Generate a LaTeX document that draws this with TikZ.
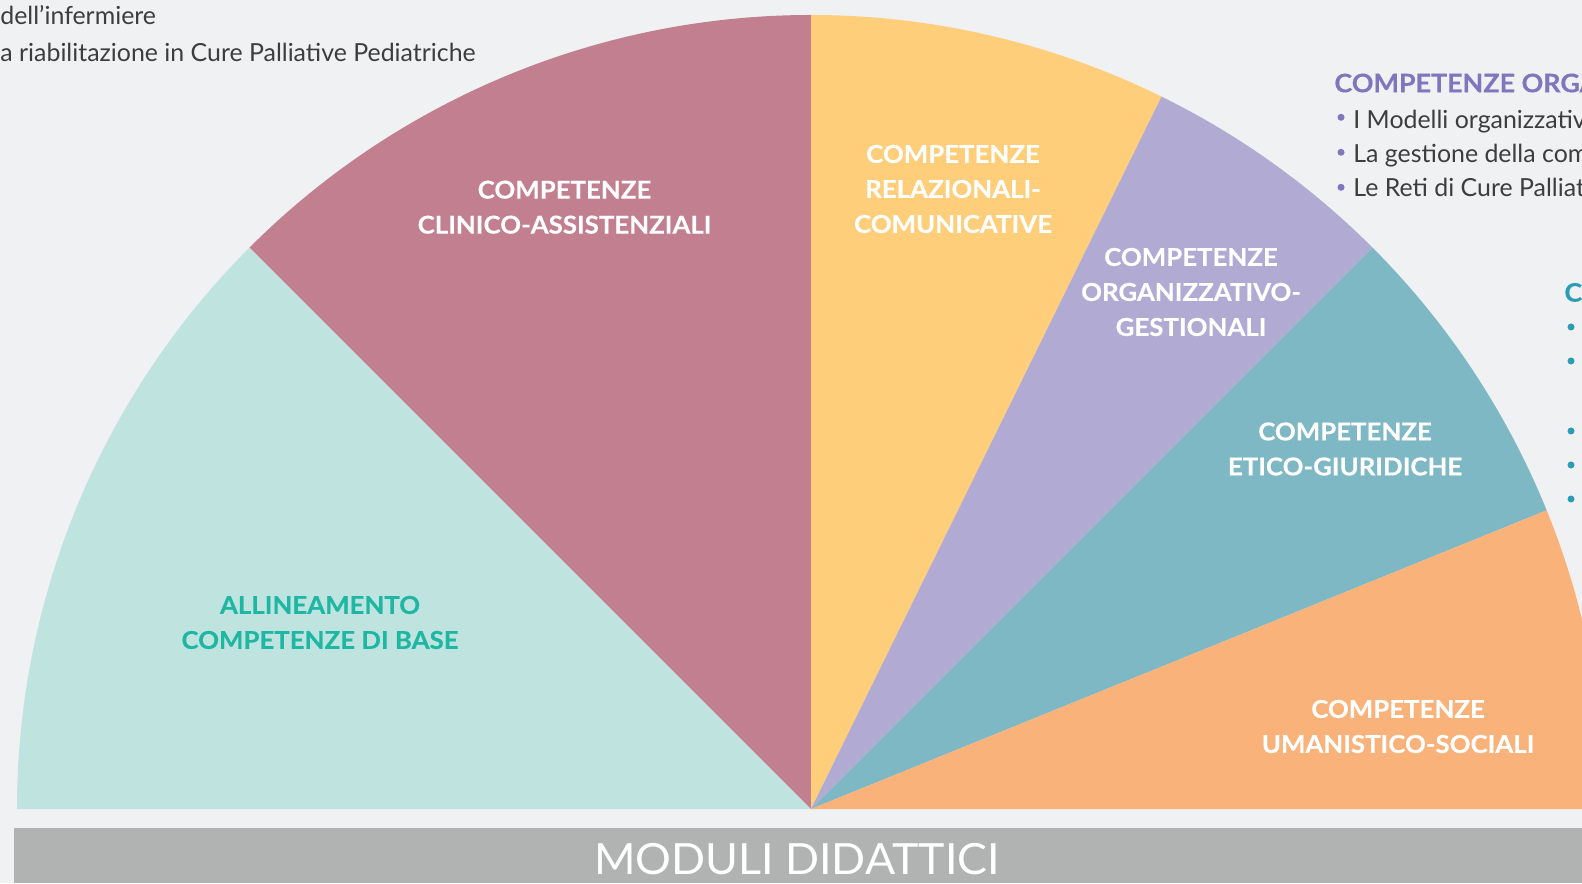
\documentclass[tikz,border=0pt]{standalone}
\usepackage{fontspec}
\setmainfont{Lato}
\newfontfamily\labfont{Lato}[FakeStretch=1.05,FakeBold=0.3]
\newfontfamily\modfont{Lato}[FakeStretch=1.04]
\definecolor{bgc}{HTML}{F0F1F3}
\definecolor{mintc}{HTML}{BFE3DF}
\definecolor{redc}{HTML}{C27F8F}
\definecolor{yelc}{HTML}{FECE7B}
\definecolor{purc}{HTML}{B1ABD4}
\definecolor{tealc}{HTML}{7FB8C5}
\definecolor{orc}{HTML}{F9B37A}
\definecolor{barc}{HTML}{B1B3B2}
\definecolor{minttext}{HTML}{1DB7A4}
\definecolor{purhead}{HTML}{7F76BE}
\definecolor{tealhead}{HTML}{2A9DB4}
\definecolor{bodyc}{HTML}{3D3D3D}
\begin{document}
\begin{tikzpicture}[x=0.5pt,y=0.5pt,
  wlabel/.style={text=white,font=\fontsize{12.3}{17.5}\selectfont\labfont\bfseries,align=center,inner sep=0pt},
  bodytext/.style={text=bodyc,font=\fontsize{12.45}{15}\selectfont,inner sep=0pt},
  headtext/.style={font=\fontsize{12.8}{15}\selectfont\labfont\bfseries,inner sep=0pt},
  dotp/.style={circle,fill=purhead,inner sep=0pt,minimum size=3.5pt},
  dott/.style={circle,fill=tealhead,inner sep=0pt,minimum size=3.5pt}]
\useasboundingbox (0,0) rectangle (1582,883);
\clip (0,0) rectangle (1582,883);
\fill[bgc] (0,0) rectangle (1582,883);
\def\R{794}
\coordinate (C) at (811,74);
% wedges
\fill[mintc] (C) -- ++(180:\R) arc[start angle=180,end angle=135,radius=\R] -- cycle;
\fill[redc] (C) -- ++(135:\R) arc[start angle=135,end angle=90,radius=\R] -- cycle;
\fill[yelc] (C) -- ++(90:\R) arc[start angle=90,end angle=63.8,radius=\R] -- cycle;
\fill[purc] (C) -- ++(63.8:\R) arc[start angle=63.8,end angle=45,radius=\R] -- cycle;
\fill[tealc] (C) -- ++(45:\R) arc[start angle=45,end angle=22.1,radius=\R] -- cycle;
\fill[orc] (C) -- ++(22.1:\R) arc[start angle=22.1,end angle=0,radius=\R] -- cycle;
% bottom bar
\fill[barc] (14,0) rectangle (1600,55);
\node[text=white,font=\fontsize{21.5}{24}\selectfont\modfont,inner sep=0pt,anchor=base] (moduli) at (797,9) {MODULI DIDATTICI};
% wedge labels
\node[wlabel] (clin) at (564.5,675.8) {COMPETENZE\\CLINICO-ASSISTENZIALI};
\node[wlabel] (rel) at (953,694) {COMPETENZE\\RELAZIONALI-\\COMUNICATIVE};
\node[wlabel] (org) at (1191,591) {COMPETENZE\\ORGANIZZATIVO-\\GESTIONALI};
\node[wlabel] (eti) at (1345,434) {COMPETENZE\\ETICO-GIURIDICHE};
\node[wlabel] (uma) at (1398,156.5) {COMPETENZE\\UMANISTICO-SOCIALI};
\node[wlabel,text=minttext] (all) at (320,260.5) {ALLINEAMENTO\\COMPETENZE DI BASE};
% top-left text
\node[bodytext,anchor=base west] (tl1) at (0,858) {dell’infermiere};
\node[bodytext,anchor=base west] (tl2) at (0,821.3) {a riabilitazione in Cure Palliative Pediatriche};
% right purple block
\node[headtext,text=purhead,anchor=base west] (ph) at (1334,790.7) {COMPETENZE ORGA};
\node[dotp] (pb1) at (1341,765.7) {};
\node[dotp] (pb2) at (1341,730.7) {};
\node[dotp] (pb3) at (1341,695.7) {};
\node[bodytext,anchor=base west] (pt1) at (1353,754.7) {I Modelli organizzativ};
\node[bodytext,anchor=base west] (pt2) at (1353,720.3) {La gestione della com};
\node[bodytext,anchor=base west] (pt3) at (1353,686.1) {Le Reti di Cure Palliat};
% right teal block
\node[headtext,text=tealhead,anchor=base west] (th) at (1564,581.3) {C};
\node[dott] (tb1) at (1571,556) {};
\node[dott] (tb2) at (1571,522) {};
\node[dott] (tb3) at (1571,452) {};
\node[dott] (tb4) at (1571,418) {};
\node[dott] (tb5) at (1571,384) {};
\end{tikzpicture}
\end{document}
